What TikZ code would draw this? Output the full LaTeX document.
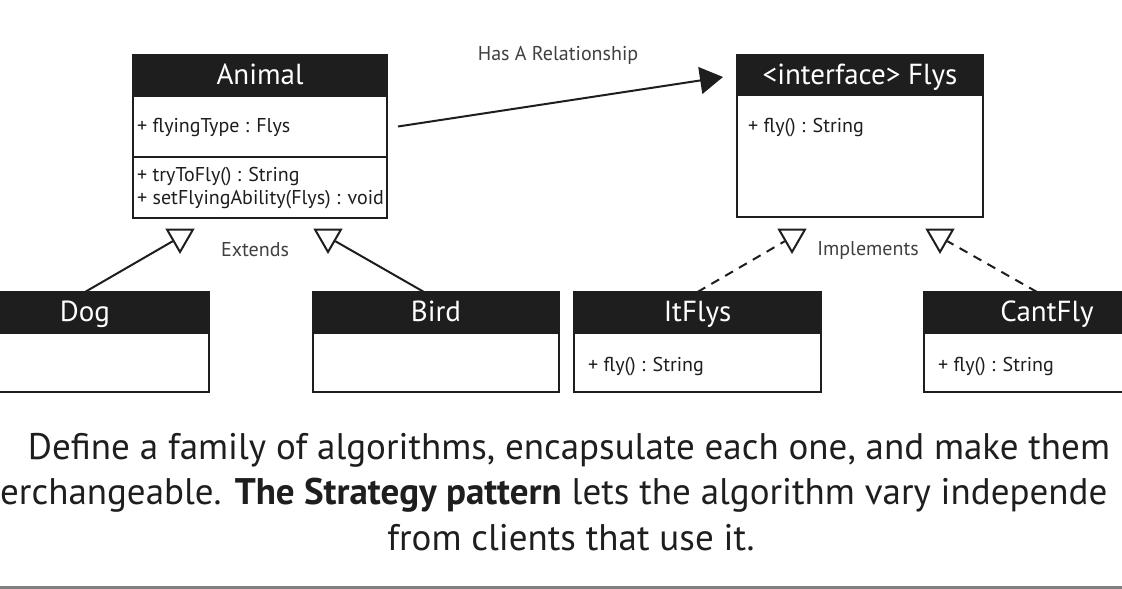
\documentclass[tikz,border=0pt]{standalone}
\usepackage{fontspec}
\setmainfont{PT Sans}
\usetikzlibrary{arrows.meta,shapes.geometric}
\definecolor{ink}{HTML}{1E1E1E}
\begin{document}
\begin{tikzpicture}[x=1pt,y=-1pt,
  hdr/.style={draw=ink, fill=ink, line width=2pt, text=white, outer sep=0pt,
    font=\fontsize{29}{32}\selectfont, text height=22pt, text depth=4pt,
    inner sep=0pt, anchor=north west},
  bodybox/.style={draw=ink, fill=white, line width=2pt, inner sep=0pt, outer sep=0pt, anchor=north west},
  member/.style={anchor=base west, inner sep=0pt, text=ink, font=\fontsize{20}{22}\selectfont},
  lbl/.style={inner sep=0pt, text=ink!85, font=\fontsize{20}{22}\selectfont},
  tri/.style={regular polygon, regular polygon sides=3, shape border rotate=180,
    draw=ink, fill=white, line width=2pt, minimum size=30pt, inner sep=0pt},
  conn/.style={draw=ink, line width=2pt},
  big/.style={inner sep=0pt, text=ink, font=\fontsize{37}{42}\selectfont}
]
\useasboundingbox (0,0) rectangle (1122,589);
\clip (0,0) rectangle (1122,589);
\fill[white] (0,0) rectangle (1122,589);

% Animal
\node[hdr, minimum width=254pt, minimum height=41pt] (animal) at (133,55) {Animal};
\node[bodybox, minimum width=254pt, minimum height=61pt] (animalattr) at (animal.south west) {};
\node[bodybox, minimum width=254pt, minimum height=61pt] (animalops) at (animalattr.south west) {};
\node[member] (a1) at (137,132) {+ flyingType : Flys};
\node[member] (a2) at (137,181) {+ tryToFly() : String};
\node[member] (a3) at (137,204) {+ setFlyingAbility(Flys) : void};

% Flys interface
\node[hdr, minimum width=246pt, minimum height=40pt] (flys) at (737,55) {<interface> Flys};
\node[bodybox, minimum width=246pt, minimum height=122pt] (flysbody) at (flys.south west) {};
\node[member] (f1) at (748,132) {+ fly() : String};

% Dog
\node[hdr, minimum width=248pt, minimum height=41pt] (dog) at (-39,292) {Dog};
\node[bodybox, minimum width=248pt, minimum height=59pt] (dogbody) at (dog.south west) {};

% Bird
\node[hdr, minimum width=246pt, minimum height=41pt] (bird) at (313,292) {Bird};
\node[bodybox, minimum width=246pt, minimum height=59pt] (birdbody) at (bird.south west) {};

% ItFlys
\node[hdr, minimum width=247pt, minimum height=41pt] (itflys) at (574,292) {ItFlys};
\node[bodybox, minimum width=247pt, minimum height=59pt] (itflysbody) at (itflys.south west) {};
\node[member] (i1) at (588,371) {+ fly() : String};

% CantFly
\node[hdr, minimum width=246pt, minimum height=41pt] (cantfly) at (924,292) {CantFly};
\node[bodybox, minimum width=246pt, minimum height=59pt] (cantflybody) at (cantfly.south west) {};
\node[member] (c1) at (938,371) {+ fly() : String};

% triangles
\node[tri] (t1) at (180,237) {};
\node[tri] (t2) at (328,237) {};
\node[tri] (t3) at (792,237) {};
\node[tri] (t4) at (940,237) {};

% connectors
\draw[conn] (dog.north) -- (t1);
\draw[conn] ([xshift=-12pt]bird.north) -- (t2);
\draw[conn, dash pattern=on 9pt off 7pt] (itflys.north) -- (t3);
\draw[conn, dash pattern=on 9pt off 7pt] ([xshift=-10pt]cantfly.north) -- (t4);
\draw[conn, -{Triangle[length=23pt,width=27pt]}] ([xshift=11pt]animalattr.east) -- ([xshift=-14pt,yshift=-2pt]flys.west);

% labels
\node[lbl] (hasa) at (558,55) {Has A Relationship};
\node[lbl] (ext) at (255,250) {Extends};
\node[lbl] (impl) at (868,250) {Implements};

% caption
\node[big, anchor=base] (l1) at (569,459) {Define a family of algorithms, encapsulate each one, and make them};
\node[big, anchor=base west] (l2) at (0,504) {erchangeable. \textbf{The Strategy pattern} lets the algorithm vary independe};
\node[big, anchor=base] (l3) at (571,550) {from clients that use it.};

\draw[black!50, line width=3pt] (0,587.5) -- (1122,587.5);
\end{tikzpicture}
\end{document}
